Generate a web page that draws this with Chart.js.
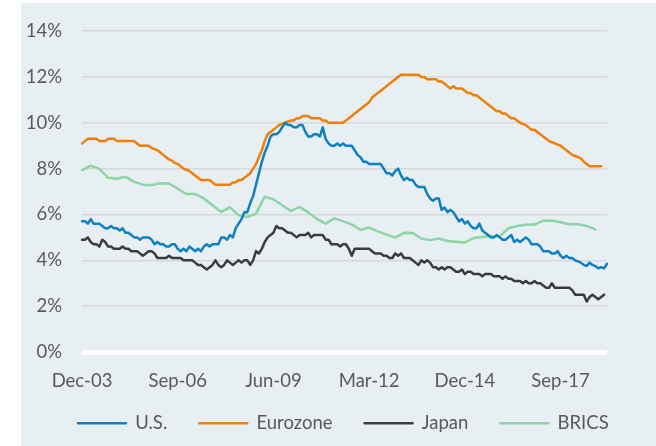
<!DOCTYPE html>
<html>
<head>
<meta charset="utf-8">
<script src="https://cdn.jsdelivr.net/npm/chart.js@4"></script>
<style>
  html, body { margin: 0; padding: 0; background: #ffffff; }
  #wrap { position: relative; width: 656px; height: 446px; }
  #panel { position: absolute; left: 21px; top: 3px; width: 635px; height: 443px; background: #e8eff3; }
  #c { position: absolute; left: 0; top: 0; }
</style>
</head>
<body>
<div id="wrap">
  <div id="panel"></div>
  <canvas id="c" width="656" height="446"></canvas>
</div>
<script>
// ---- categories: monthly, Dec-03 onward ----
const monthNames = ['Jan','Feb','Mar','Apr','May','Jun','Jul','Aug','Sep','Oct','Nov','Dec'];
const startYear = 2003, startMonth = 11, monthCount = 182;
const months = [];
for (let k = 0; k < monthCount; k++) {
  const m = (startMonth + k) % 12;
  const y = startYear + Math.floor((startMonth + k) / 12);
  months.push(monthNames[m] + '-' + String(y % 100).padStart(2, '0'));
}
const tickLabels = ['Dec-03','Sep-06','Jun-09','Mar-12','Dec-14','Sep-17'];
const yTicks = [0, 2, 4, 6, 8, 10, 12, 14];

// ---- series (unemployment rate, %) ----
const usRate = [
  5.7,5.7,5.6,5.8,5.6,5.6,5.6,5.5,5.4,5.4,5.5,5.4,
  5.4,5.3,5.4,5.2,5.2,5.1,5.0,5.0,4.9,5.0,5.0,5.0,
  4.9,4.7,4.8,4.7,4.7,4.6,4.6,4.7,4.7,4.5,4.4,4.5,
  4.4,4.6,4.5,4.4,4.5,4.4,4.6,4.7,4.6,4.7,4.7,4.7,
  5.0,5.0,4.9,5.1,5.0,5.4,5.6,5.8,6.1,6.1,6.5,6.8,
  7.3,7.8,8.3,8.7,9.0,9.4,9.5,9.5,9.6,9.8,10.0,9.9,
  9.9,9.8,9.8,9.9,9.9,9.6,9.4,9.4,9.5,9.5,9.4,9.8,
  9.3,9.1,9.0,9.0,9.1,9.0,9.1,9.0,9.0,9.0,8.8,8.6,
  8.5,8.3,8.3,8.2,8.2,8.2,8.2,8.2,8.0,7.8,7.8,7.7,
  7.9,8.0,7.7,7.5,7.6,7.5,7.5,7.3,7.2,7.2,7.2,6.9,
  6.7,6.6,6.7,6.7,6.2,6.3,6.1,6.2,6.1,5.9,5.7,5.8,
  5.6,5.7,5.5,5.4,5.4,5.6,5.3,5.2,5.1,5.0,5.0,5.1,
  5.0,4.9,4.9,5.0,5.1,4.8,4.9,4.8,4.9,5.0,4.9,4.7,
  4.7,4.7,4.6,4.4,4.4,4.4,4.3,4.3,4.4,4.2,4.1,4.2,
  4.1,4.1,4.0,3.95,3.9,3.8,3.75,3.9,3.8,3.75,3.65,3.7,
  3.65,3.85
];
const eurozoneRate = [
  9.1,9.2,9.3,9.3,9.3,9.3,9.2,9.2,9.2,9.3,9.3,9.3,
  9.2,9.2,9.2,9.2,9.2,9.2,9.2,9.1,9.0,9.0,9.0,9.0,
  8.9,8.85,8.8,8.7,8.6,8.5,8.4,8.35,8.25,8.2,8.1,8.0,
  7.95,7.9,7.8,7.7,7.6,7.5,7.5,7.5,7.5,7.4,7.3,7.3,
  7.3,7.3,7.3,7.3,7.4,7.4,7.5,7.5,7.6,7.7,7.8,8.0,
  8.2,8.5,8.8,9.2,9.5,9.6,9.7,9.8,9.9,9.95,10.0,10.05,
  10.1,10.1,10.2,10.2,10.3,10.3,10.3,10.2,10.2,10.2,10.2,10.1,
  10.1,10.0,10.0,10.0,10.0,10.0,10.0,10.1,10.2,10.3,10.4,10.5,
  10.6,10.7,10.8,10.9,11.1,11.2,11.3,11.4,11.5,11.6,11.7,11.8,
  11.9,12.0,12.1,12.1,12.1,12.1,12.1,12.1,12.1,12.0,12.0,11.9,
  11.9,11.9,11.9,11.8,11.8,11.7,11.6,11.5,11.6,11.5,11.5,11.5,
  11.4,11.3,11.3,11.2,11.2,11.1,11.0,10.9,10.8,10.7,10.6,10.5,
  10.5,10.4,10.4,10.3,10.2,10.2,10.1,10.0,9.95,9.9,9.8,9.7,
  9.7,9.6,9.5,9.4,9.3,9.2,9.15,9.1,9.05,9.0,8.9,8.8,
  8.7,8.6,8.55,8.5,8.45,8.3,8.2,8.1,8.1,8.1,8.1,8.1
];
const japanRate = [
  4.9,4.9,5.0,4.8,4.7,4.7,4.6,4.9,4.8,4.6,4.6,4.5,
  4.5,4.5,4.6,4.5,4.5,4.4,4.4,4.4,4.3,4.2,4.3,4.4,
  4.4,4.3,4.1,4.1,4.1,4.1,4.2,4.1,4.1,4.1,4.1,4.0,
  4.0,4.0,4.0,3.9,3.8,3.8,3.7,3.6,3.7,3.8,4.0,3.8,
  3.7,3.8,4.0,3.9,3.8,3.9,4.0,3.9,4.0,4.0,3.8,4.0,
  4.4,4.3,4.5,4.8,5.0,5.1,5.2,5.5,5.4,5.4,5.3,5.2,
  5.2,5.1,5.0,5.1,5.1,5.1,5.2,5.0,5.1,5.1,5.1,5.1,
  4.9,4.9,4.7,4.7,4.7,4.6,4.7,4.7,4.5,4.2,4.5,4.5,
  4.5,4.5,4.5,4.5,4.4,4.3,4.3,4.3,4.2,4.2,4.1,4.1,
  4.3,4.2,4.3,4.1,4.1,4.1,4.0,3.9,3.8,4.0,3.9,4.0,
  3.9,3.7,3.7,3.6,3.7,3.6,3.7,3.7,3.6,3.5,3.5,3.6,
  3.4,3.5,3.5,3.4,3.4,3.4,3.3,3.4,3.4,3.4,3.3,3.3,
  3.3,3.2,3.3,3.2,3.2,3.1,3.1,3.1,3.0,3.1,3.0,3.0,
  3.1,3.0,3.0,2.9,2.8,2.8,3.0,2.8,2.8,2.8,2.8,2.8,
  2.8,2.7,2.5,2.5,2.5,2.5,2.2,2.4,2.5,2.4,2.3,2.4,
  2.5
];
// BRICS: quarterly observations (every third month from Dec-03)
const bricsQuarterly = [
  7.93,8.13,7.99,7.6,7.56,7.65,7.42,7.3,7.28,7.36,7.35,7.12,
  6.89,6.89,6.7,6.4,6.11,6.31,5.97,5.89,6.04,6.78,6.66,6.4,
  6.15,6.33,6.09,5.8,5.6,5.83,5.7,5.57,5.32,5.43,5.26,5.12,
  4.99,5.2,5.19,4.95,4.88,4.95,4.84,4.81,4.78,4.97,5.02,5.06,
  5.04,5.4,5.5,5.55,5.56,5.73,5.74,5.66,5.57,5.57,5.5,5.35
];
const bricsMonthly = months.map((m, i) => (i % 3 === 0 && i / 3 < bricsQuarterly.length) ? bricsQuarterly[i / 3] : null);

const FONT = 'Lato, "Liberation Sans", sans-serif';
const TEXT = '#595959';

function lineDs(label, data, color) {
  return {
    label, data,
    borderColor: color, backgroundColor: color,
    borderWidth: 2.5, pointRadius: 0, pointHoverRadius: 0,
    tension: 0, fill: false, spanGaps: true,
    borderJoinStyle: 'round', borderCapStyle: 'round'
  };
}

const shiftLegend = {
  id: 'shiftLegend',
  afterLayout(chart) {
    const lg = chart.legend;
    if (lg) { lg.left += 46; lg.right += 46; lg.top -= 20; }
  }
};

new Chart(document.getElementById('c'), {
  type: 'line',
  data: {
    labels: months,
    datasets: [
      lineDs('U.S.', usRate, '#0e80c2'),
      lineDs('Eurozone', eurozoneRate, '#f07f09'),
      lineDs('Japan', japanRate, '#3c3c3c'),
      lineDs('BRICS', bricsMonthly, '#8ed4a6')
    ]
  },
  plugins: [shiftLegend],
  options: {
    responsive: false,
    animation: false,
    devicePixelRatio: 1,
    layout: { padding: { left: 0, right: 49, top: 23, bottom: 0 } },
    plugins: {
      tooltip: { enabled: false },
      legend: {
        display: true,
        position: 'bottom',
        align: 'start',
        maxHeight: 44,
        labels: {
          boxWidth: 48,
          boxHeight: 0,
          padding: 32,
          color: TEXT,
          font: { family: FONT, size: 18.5 }
        }
      }
    },
    scales: {
      x: {
        type: 'category',
        offset: false,
        grid: { display: false, drawTicks: false },
        border: { display: false },
        afterFit(axis) { axis.height = 50; },
        ticks: {
          autoSkip: false,
          maxRotation: 0,
          minRotation: 0,
          padding: 18,
          color: TEXT,
          font: { family: FONT, size: 18.5 },
          callback(val, idx) {
            const lab = months[idx];
            return tickLabels.includes(lab) ? lab : '';
          }
        }
      },
      y: {
        min: 0,
        max: 14,
        afterFit(axis) { axis.width = 82; },
        afterBuildTicks(axis) { axis.ticks = yTicks.map(v => ({ value: v })); },
        grid: {
          drawTicks: false,
          color: (ctx) => ctx.tick && ctx.tick.value === 0 ? '#ffffff' : '#d6d9db',
          lineWidth: (ctx) => ctx.tick && ctx.tick.value === 0 ? 5 : 1.6
        },
        border: { display: false },
        ticks: {
          padding: 20,
          color: TEXT,
          font: { family: FONT, size: 18.5 },
          callback: (v) => v + '%'
        }
      }
    }
  }
});
</script>
</body>
</html>
